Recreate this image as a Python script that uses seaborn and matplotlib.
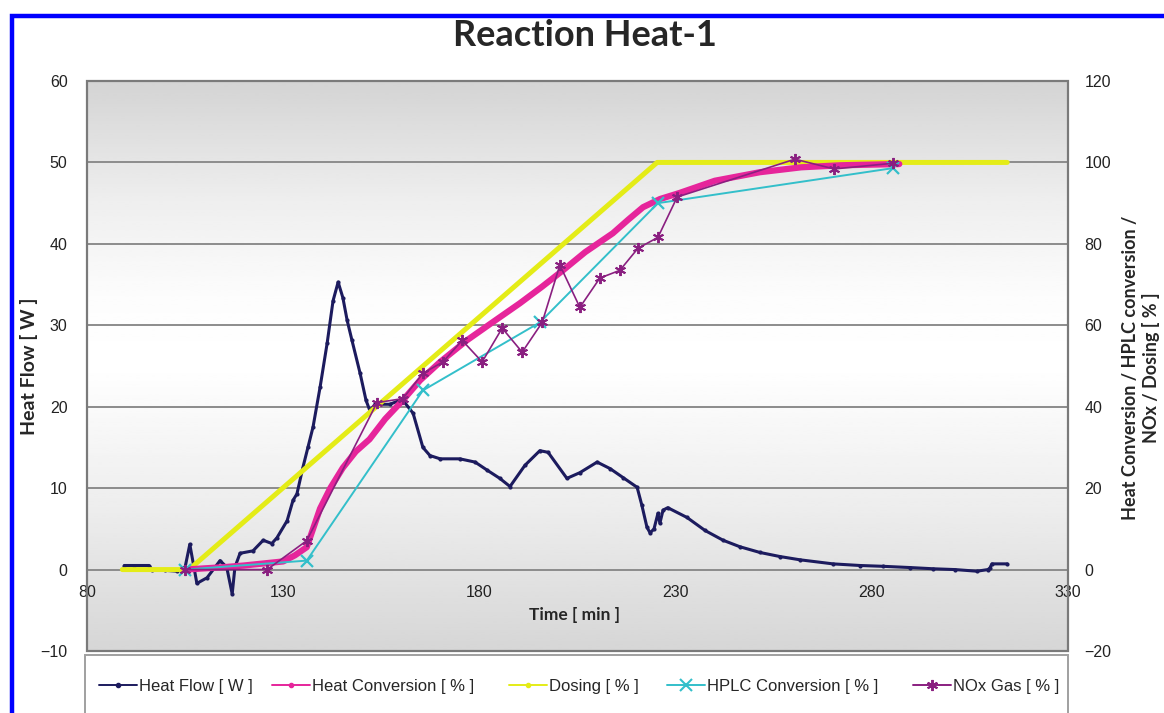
import numpy as np
import matplotlib
matplotlib.use("Agg")
import matplotlib.pyplot as plt
from matplotlib.lines import Line2D
from matplotlib.patches import Rectangle
import seaborn as sns

# ---- data ----
# Heat flow [W] (left axis)
flow_t = [89.5, 92, 95.8, 96.5, 100, 103, 105, 106.2, 108, 110.6, 113.9, 115.6, 117, 117.7,
          119, 122.3, 124.9, 127.1, 128.4, 131, 132.5, 133.5, 135, 136.3, 137.6, 139.4, 141.2,
          142.7, 144, 145.2, 146.3, 147.5, 149.6, 151.1, 152.1, 153.4, 157.2, 159.8, 160.5,
          163.1, 165.6, 167.4, 170, 175, 178.9, 182, 185.2, 187.8, 191.6, 195.4, 197.5, 202.3,
          205.6, 210, 213.3, 216.6, 220.2, 221.4, 222.7, 223.5, 224.5, 225.5, 226, 226.8, 228,
          232.9, 237.5, 242.1, 246.4, 251.5, 256.6, 261.7, 270.1, 277, 282.9, 289.7, 295.6,
          301.2, 306.8, 309.6, 310.1, 310.6, 314.5]
flow_w = [0.5, 0.5, 0.5, 0.0, -0.1, -0.2, 0.3, 3.1, -1.7, -1.0, 1.1, 0.3, -3.0, 0.3,
          2.0, 2.3, 3.6, 3.2, 3.9, 6.0, 8.5, 9.3, 12.5, 15.0, 17.5, 22.4, 27.8,
          33.0, 35.3, 33.4, 30.6, 28.2, 24.1, 20.8, 19.5, 20.3, 20.3, 20.8, 20.8,
          19.2, 15.0, 14.0, 13.6, 13.6, 13.2, 12.2, 11.2, 10.2, 12.8, 14.6, 14.4, 11.2,
          11.9, 13.2, 12.4, 11.3, 10.1, 7.9, 5.2, 4.5, 5.0, 6.9, 5.7, 7.3, 7.6,
          6.4, 4.8, 3.6, 2.8, 2.1, 1.6, 1.2, 0.7, 0.5, 0.4, 0.25, 0.1,
          0.0, -0.2, 0.0, 0.2, 0.7, 0.7]

# Heat conversion [%] (right axis)
conv_t = [105, 110, 115, 120, 125, 130, 133, 136, 139.4, 142, 145.2, 148.5, 152, 156, 160.5,
          164.9, 170, 176.8, 183, 190.3, 196, 201.3, 207, 214, 218, 221.7, 226, 231, 240,
          251.5, 262, 272, 282, 287]
conv_p = [0, 0.3, 0.6, 1.0, 1.5, 2.0, 3.5, 5.5, 15, 20, 25, 29, 32, 37, 41.6,
          46.5, 51, 56.3, 60.5, 65.4, 69.5, 73.5, 78, 82.6, 86, 89, 91, 92.5, 95.5,
          97.6, 98.8, 99.3, 99.5, 99.6]

# Dosing [%] (right axis)
dose_t = [89, 106, 225.3, 314.5]
dose_p = [0, 0, 100, 100]

# HPLC conversion [%] (right axis)
hplc_t = [105, 136, 165.6, 195.4, 225.5, 285.4]
hplc_p = [0, 2.2, 44, 60.7, 90, 98.6]

# NOx gas [%] (right axis)
nox_t = [105, 125.9, 136, 153.9, 160.5, 165.6, 170.7, 175.6, 180.7, 185.8, 190.9, 196,
         200.5, 205.6, 210.7, 215.8, 220.4, 225.5, 230.4, 260.4, 270.4, 285.4]
nox_p = [0, 0, 7.1, 41, 42, 48.2, 51, 56.3, 51, 59.3, 53.4, 60.7,
         74.8, 64.4, 71.6, 73.5, 78.9, 81.6, 91.5, 100.8, 98.4, 99.8]

series_names = ["Heat Flow [ W ]", "Heat Conversion [ % ]", "Dosing [ % ]",
                "HPLC Conversion [ % ]", "NOx Gas [ % ]"]

NAVY = "#1c1b5e"
MAGENTA = "#e6259b"
YELLOW = "#e4ec17"
CYAN = "#33bfca"
PURPLE = "#8a1f80"
GRID = "#8c8c8c"

sns.set_theme(style="white")
plt.rcParams['font.family'] = ['Liberation Sans', 'DejaVu Sans']

W, H = 1164, 713
fig = plt.figure(figsize=(W / 100, H / 100), dpi=100)
ax = fig.add_axes([87 / W, 1 - 651 / H, 981 / W, 570 / H])
ax2 = ax.twinx()

# grey-white-grey background gradient of the plot area
yy = np.linspace(0, 1, 200)
shade = np.interp(yy, [0, 0.25, 0.5, 0.62, 0.8, 1.0], [0.84, 0.93, 1.0, 0.99, 0.93, 0.83])
ax.imshow(shade[::-1].reshape(-1, 1), extent=[0, 1, 0, 1], transform=ax.transAxes,
          aspect='auto', cmap='gray', vmin=0, vmax=1, zorder=0, interpolation='bilinear')

# gridlines
for v in range(10, 60, 10):
    ax.axhline(v, color=GRID, lw=1.4, zorder=1)

# primary series
sns.lineplot(x=flow_t, y=flow_w, ax=ax, color=NAVY, lw=2.2, marker='o', markersize=3,
             markeredgewidth=0, sort=False, estimator=None, zorder=3)

# secondary series
sns.lineplot(x=conv_t, y=conv_p, ax=ax2, color=MAGENTA, lw=4.5, sort=False, estimator=None, zorder=3)
sns.lineplot(x=dose_t, y=dose_p, ax=ax2, color=YELLOW, lw=3.6, sort=False, estimator=None, zorder=2)
sns.lineplot(x=hplc_t, y=hplc_p, ax=ax2, color=CYAN, lw=1.4, marker='x', markersize=9,
             markeredgewidth=1.6, markeredgecolor=CYAN, sort=False, estimator=None, zorder=4)
sns.lineplot(x=nox_t, y=nox_p, ax=ax2, color=PURPLE, lw=1.2, marker=(6, 2, 0), markersize=8,
             markeredgewidth=1.4, markeredgecolor=PURPLE, sort=False, estimator=None, zorder=5)

ax.set_xlim(80, 330)
ax.set_ylim(-10, 60)
ax2.set_ylim(-20, 120)

ax.set_xticks([80, 130, 180, 230, 280, 330])
ax.set_yticks(range(-10, 61, 10))
ax2.set_yticks(range(-20, 121, 20))
ax.tick_params(axis='x', direction='out', length=4, color=GRID, pad=7, labelsize=11.5,
               labelcolor='#222222')
ax.tick_params(axis='y', length=0, pad=14, labelsize=11.5, labelcolor='#222222')
ax2.tick_params(axis='y', length=0, pad=12, labelsize=11.5, labelcolor='#222222')

for s in ax.spines.values():
    s.set_color(GRID)
    s.set_linewidth(1.4)
ax.spines['bottom'].set_position(('data', 0))
for s in ax2.spines.values():
    s.set_visible(False)
ax.add_patch(Rectangle((0, 0), 1, 1, transform=ax.transAxes, fill=False, edgecolor='#7a7a7a',
                       lw=1.6, clip_on=False, zorder=6))

lab_font = dict(family=['Lato', 'DejaVu Sans'], weight='bold')
ax.set_xlabel("Time [ min ]", fontsize=12.5, **lab_font)
ax.xaxis.set_label_coords(0.497, 0.078)
ax.set_ylabel("Heat Flow [ W ]", fontsize=14, **lab_font)
ax.yaxis.set_label_coords(-0.05, 0.5)
ax2.set_ylabel("")
fig.text(1141 / W, 1 - 368 / H, "Heat Conversion / HPLC conversion /\nNOx / Dosing [ % ]",
         rotation=90, ha='center', va='center', fontsize=13, linespacing=1.25, **lab_font)

fig.text(585 / W, 1 - 36 / H, "Reaction Heat-1", ha='center', va='center', fontsize=26,
         **lab_font)

# legend box and entries
fig.add_artist(Rectangle((85 / W, -0.05), 983 / W, 0.05 + 58 / H, transform=fig.transFigure,
                         facecolor='white', edgecolor='#a0a0a0', lw=1.4))
handles = [
    Line2D([], [], color=NAVY, lw=1.4, marker='o', markersize=3),
    Line2D([], [], color=MAGENTA, lw=1.4, marker='o', markersize=3),
    Line2D([], [], color=YELLOW, lw=1.4, marker='o', markersize=3),
    Line2D([], [], color=CYAN, lw=1.4, marker='x', markersize=8, markeredgewidth=1.5),
    Line2D([], [], color=PURPLE, lw=1.4, marker=(6, 2, 0), markersize=8, markeredgewidth=1.4),
]
leg_x = [99, 272, 509, 667, 913]
for h, name, x0 in zip(handles, series_names, leg_x):
    fig.legend([h], [name], loc='center left', bbox_to_anchor=(x0 / W, 1 - 686 / H),
               frameon=False, borderpad=0, borderaxespad=0, handlelength=2.3,
               handletextpad=0.1, prop=dict(family=['Liberation Sans', 'DejaVu Sans'],
                                            size=12))

# blue outer frame
fig.add_artist(Rectangle((12 / W, -0.1), 1.2, 0.1 + 1 - 16 / H, transform=fig.transFigure,
                         fill=False, edgecolor='#0000ff', lw=3.2))

fig.savefig("out.png", dpi=100)
